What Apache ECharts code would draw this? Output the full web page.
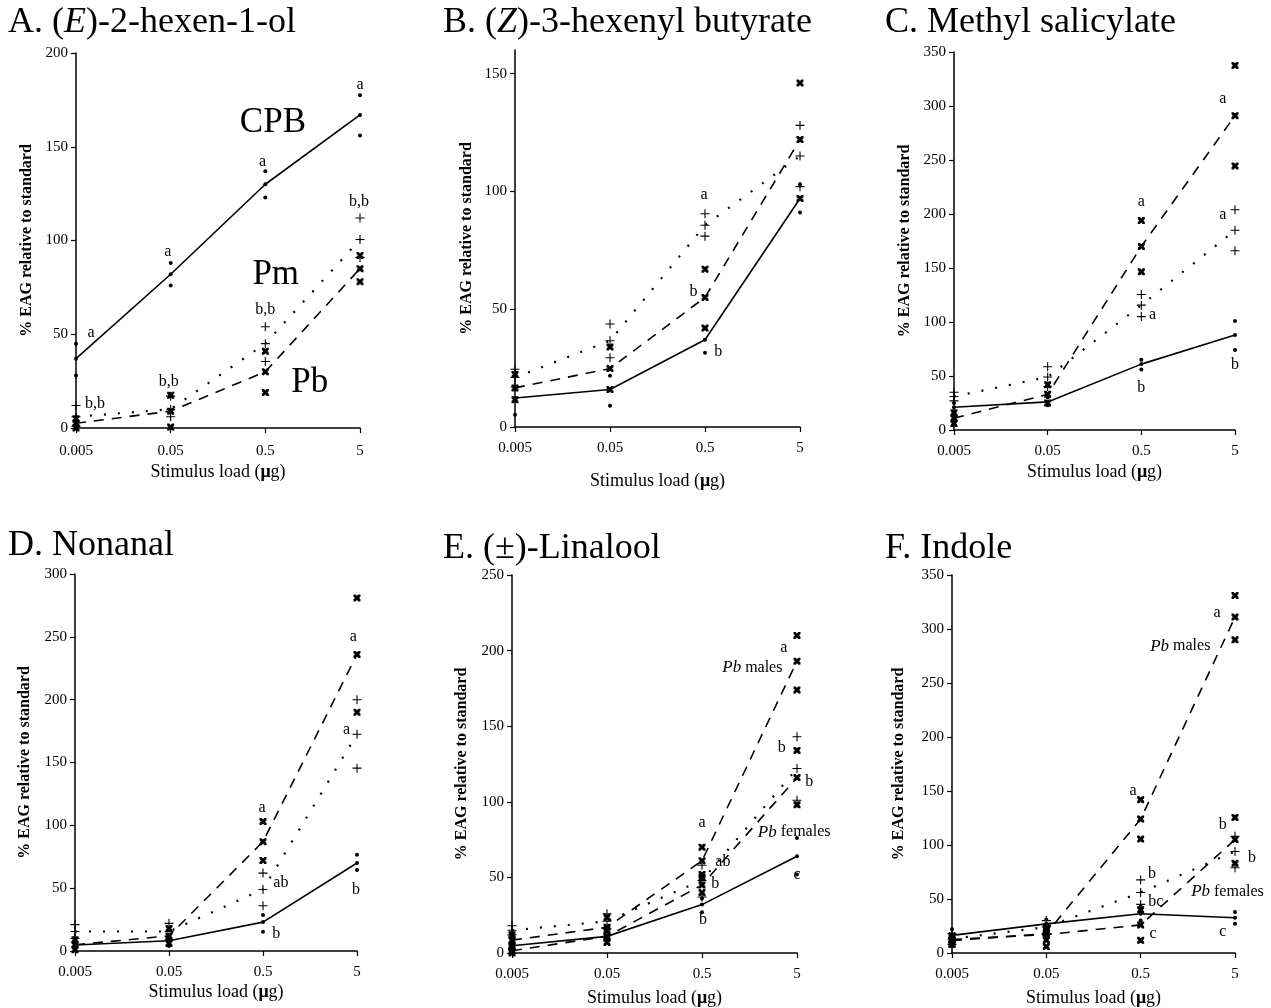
<!DOCTYPE html>
<html><head><meta charset="utf-8">
<script src="https://cdn.jsdelivr.net/npm/echarts@6/dist/echarts.min.js"></script>
<style>html,body{margin:0;padding:0;background:#fff}#c{width:1271px;height:1008px}</style>
</head><body><div id="c"></div>
<script>
// ---------- DATA ----------
const xTicks = ['0.005', '0.05', '0.5', '5'];

// A. (E)-2-hexen-1-ol
const A_CPB_mean = [37, 82, 130, 167];
const A_CPB_hi   = [45, 88, 137, 177.5];
const A_CPB_lo   = [28, 76, 123, 156];
const A_Pm_mean  = [6, 10, 45, 100.5];
const A_Pm_hi    = [12, 17, 54, 112];
const A_Pm_lo    = [1, 6, 35.5, 91];
const A_Pb_mean  = [2.5, 9, 30, 85];
const A_Pb_hi    = [5, 17.5, 41, 92];
const A_Pb_lo    = [0, 0.5, 19, 78];
const A_notes = [[0.16, 50.6, 'a'], [0.2, 13, 'b,b'], [0.97, 94, 'a'], [0.98, 24.5, 'b,b'],
                 [1.97, 142, 'a'], [2.0, 63, 'b,b'], [3.0, 183, 'a'], [2.99, 120.5, 'b,b']];
const A_big = [[2.08, 163, 'CPB'], [2.11, 81.6, 'Pm'], [2.47, 24, 'Pb']];

// B. (Z)-3-hexenyl butyrate
const B_CPB_mean = [12.3, 15.9, 37, 97];
const B_CPB_hi   = [17, 21.8, 42, 103];
const B_CPB_lo   = [5.2, 9, 31.5, 91];
const B_Pm_mean  = [21, 36.6, 85.6, 115];
const B_Pm_hi    = [24.5, 43.7, 90.5, 128];
const B_Pm_lo    = [17, 29.4, 81, 102];
const B_Pb_mean  = [16.6, 24.8, 55, 122];
const B_Pb_hi    = [22.3, 34, 67, 146];
const B_Pb_lo    = [11.6, 15.9, 42, 97];
const B_notes = [[1.99, 98.6, 'a'], [1.88, 57.4, 'b'], [2.14, 32, 'b']];

// C. Methyl salicylate
const C_CPB_mean = [21, 26, 61, 88];
const C_CPB_hi   = [25, 30, 65, 101];
const C_CPB_lo   = [17, 23, 56, 74];
const C_Pm_mean  = [31, 49, 115.6, 185];
const C_Pm_hi    = [35, 58.6, 125.5, 204];
const C_Pm_lo    = [27, 40, 105, 166];
const C_Pb_mean  = [11, 33, 170, 291];
const C_Pb_hi    = [16, 42, 194, 337.6];
const C_Pb_lo    = [6, 25, 146.5, 244.5];
const C_notes = [[2.0, 211, 'a'], [2.12, 106.5, 'a'], [2.0, 39, 'b'], [2.87, 307, 'a'],
                 [2.87, 199, 'a'], [3.0, 60, 'b']];

// D. Nonanal
const D_CPB_mean = [4.8, 8.2, 23, 70];
const D_CPB_hi   = [8, 11, 28.7, 76.5];
const D_CPB_lo   = [1.5, 4, 15.4, 64.5];
const D_Pm_mean  = [15.5, 15.5, 49, 172.5];
const D_Pm_hi    = [21, 22, 62, 200];
const D_Pm_lo    = [10, 9, 36, 145.5];
const D_Pb_mean  = [5, 12, 87, 236];
const D_Pb_hi    = [9, 18, 103, 281];
const D_Pb_lo    = [1, 6, 72, 190];
const D_notes = [[1.99, 114, 'a'], [2.19, 54, 'ab'], [2.14, 14, 'b'], [2.96, 250, 'a'],
                 [2.89, 176, 'a'], [2.99, 49, 'b']];

// E. (±)-Linalool
const E_CPB_mean = [4.8, 11, 32, 64];
const E_CPB_hi   = [8, 14, 36, 76];
const E_CPB_lo   = [2, 7, 27, 52];
const E_Pm_mean  = [15, 21, 48, 122];
const E_Pm_hi    = [18, 26, 58, 143];
const E_Pm_lo    = [12, 16, 37, 101];
const E_PbM_mean = [8.5, 17, 61, 193];
const E_PbM_hi   = [12, 23.5, 70, 210];
const E_PbM_lo   = [5, 10, 52, 174];
const E_PbF_mean = [1.5, 11, 45, 116];
const E_PbF_hi   = [4, 15, 50, 134];
const E_PbF_lo   = [0, 7, 40, 98];
const E_notes = [[2.0, 86, 'a'], [2.22, 60, 'ab'], [2.14, 46, 'b'], [2.01, 22, 'b'],
                 [2.86, 202, 'a'], [2.84, 136, 'b'], [3.13, 113.5, 'b'], [3.0, 52, 'c'],
                 [2.53, 188.6, '{i|Pb} males'], [2.97, 80, '{i|Pb} females']];

// F. Indole
const F_CPB_mean = [16.3, 27, 36.3, 32.6];
const F_CPB_hi   = [22, 31, 43, 38];
const F_CPB_lo   = [10, 23, 30, 27];
const F_Pm_mean  = [13, 24, 56, 94];
const F_Pm_hi    = [18, 30, 67.7, 108];
const F_Pm_lo    = [8, 18, 45, 79];
const F_PbM_mean = [11.5, 18, 124, 311];
const F_PbM_hi   = [15, 24, 142, 331];
const F_PbM_lo   = [8, 12, 105.5, 290];
const F_PbF_mean = [12.5, 17, 26, 105];
const F_PbF_hi   = [16, 22, 40, 125.5];
const F_PbF_lo   = [8, 6, 11.7, 83];
const F_notes = [[1.92, 150, 'a'], [2.12, 73, 'b'], [2.16, 47, 'bc'], [2.13, 17.5, 'c'],
                 [2.81, 315, 'a'], [2.87, 119, 'b'], [3.18, 88.6, 'b'], [2.87, 20, 'c'],
                 [2.42, 284, '{i|Pb} males'], [2.92, 57, '{i|Pb} females']];

// ---------- STYLE ----------
const SERIF = '"Liberation Serif", "Times New Roman", serif';
const SYM_DOT = 'circle';
const SYM_PLUS = 'path://M4.4,0H5.6V4.4H10V5.6H5.6V10H4.4V5.6H0V4.4H4.4Z';
const SYM_STAR = 'path://M0,0H3L5,2L7,0H10V3L8,5L10,7V10H7L5,8L3,10H0V7L2,5L0,3Z';
const ST = {
  cpb: {symbol: SYM_DOT, size: 4, dash: 'solid', width: 1.6},
  pm:  {symbol: SYM_PLUS, size: 9, dash: [2, 12], width: 2.2},
  pb:  {symbol: SYM_STAR, size: 7, dash: [10, 8], width: 1.6}
};

const panels = [
  {title: '{n|A. (}{i|E}{n|)-2-hexen-1-ol}', tl: 8, tt: 5,
   grid: {left: 76, top: 53, width: 284, height: 375}, ymax: 200, xGap: 35, xMargin: 16, yGap: 41,
   groups: [[A_CPB_mean, A_CPB_hi, A_CPB_lo, ST.cpb], [A_Pm_mean, A_Pm_hi, A_Pm_lo, ST.pm], [A_Pb_mean, A_Pb_hi, A_Pb_lo, ST.pb]],
   notes: A_notes, big: A_big},
  {title: '{n|B. (}{i|Z}{n|)-3-hexenyl butyrate}', tl: 443, tt: 5,
   grid: {left: 515, top: 50, width: 285, height: 377}, ymax: 160, xGap: 45, xMargin: 14, yGap: 40,
   groups: [[B_CPB_mean, B_CPB_hi, B_CPB_lo, ST.cpb], [B_Pm_mean, B_Pm_hi, B_Pm_lo, ST.pm], [B_Pb_mean, B_Pb_hi, B_Pb_lo, ST.pb]],
   notes: B_notes},
  {title: '{n|C. Methyl salicylate}', tl: 885, tt: 5,
   grid: {left: 954, top: 52, width: 281, height: 378}, ymax: 350, xGap: 33, xMargin: 14, yGap: 41,
   groups: [[C_CPB_mean, C_CPB_hi, C_CPB_lo, ST.cpb], [C_Pm_mean, C_Pm_hi, C_Pm_lo, ST.pm], [C_Pb_mean, C_Pb_hi, C_Pb_lo, ST.pb]],
   notes: C_notes},
  {title: '{n|D. Nonanal}', tl: 8, tt: 528,
   grid: {left: 75, top: 574, width: 282, height: 377}, ymax: 300, xGap: 32, xMargin: 14, yGap: 42,
   groups: [[D_CPB_mean, D_CPB_hi, D_CPB_lo, ST.cpb], [D_Pm_mean, D_Pm_hi, D_Pm_lo, ST.pm], [D_Pb_mean, D_Pb_hi, D_Pb_lo, ST.pb]],
   notes: D_notes},
  {title: '{n|E. (±)-Linalool}', tl: 443, tt: 531,
   grid: {left: 512, top: 575, width: 285, height: 379}, ymax: 250, xGap: 36, xMargin: 14, yGap: 42,
   groups: [[E_CPB_mean, E_CPB_hi, E_CPB_lo, ST.cpb], [E_Pm_mean, E_Pm_hi, E_Pm_lo, ST.pm],
            [E_PbM_mean, E_PbM_hi, E_PbM_lo, ST.pb], [E_PbF_mean, E_PbF_hi, E_PbF_lo, ST.pb]],
   notes: E_notes},
  {title: '{n|F. Indole}', tl: 885, tt: 531,
   grid: {left: 952, top: 575, width: 283, height: 379}, ymax: 350, xGap: 36, xMargin: 14, yGap: 45,
   groups: [[F_CPB_mean, F_CPB_hi, F_CPB_lo, ST.cpb], [F_Pm_mean, F_Pm_hi, F_Pm_lo, ST.pm],
            [F_PbM_mean, F_PbM_hi, F_PbM_lo, ST.pb], [F_PbF_mean, F_PbF_hi, F_PbF_lo, ST.pb]],
   notes: F_notes}
];

// ---------- BUILD ----------
const titles = [], grids = [], xAxes = [], yAxes = [], series = [];
const axisLineStyle = {color: '#000', width: 1.5};

panels.forEach((p, gi) => {
  titles.push({
    text: p.title, left: p.tl, top: p.tt, padding: 0,
    textStyle: {fontWeight: 'normal', rich: {
      n: {fontFamily: SERIF, fontSize: 36, fontWeight: 'normal', color: '#000'},
      i: {fontFamily: SERIF, fontSize: 36, fontWeight: 'normal', fontStyle: 'italic', color: '#000'}
    }}
  });
  grids.push(Object.assign({containLabel: false}, p.grid));
  const yTicks = [];
  for (let v = 0; v <= p.ymax; v += 50) yTicks.push(v);
  xAxes.push({
    type: 'value', gridIndex: gi, min: 0, max: 3, interval: 1,
    axisLine: {show: true, onZero: false, lineStyle: axisLineStyle},
    axisTick: {show: true, length: 5, lineStyle: {color: '#000', width: 1.2}},
    splitLine: {show: false},
    axisLabel: {formatter: v => xTicks[Math.round(v)], fontFamily: SERIF, fontSize: 15, color: '#000', margin: p.xMargin},
    name: '{n|Stimulus load (}{m|μ}{n|g)}', nameLocation: 'middle', nameGap: p.xGap,
    nameTextStyle: {rich: {
      n: {fontFamily: SERIF, fontSize: 18, color: '#000'},
      m: {fontFamily: SERIF, fontSize: 18, fontWeight: 'bold', color: '#000'}
    }}
  });
  yAxes.push({
    type: 'value', gridIndex: gi, min: 0, max: p.ymax, interval: 50,
    axisLine: {show: true, onZero: false, lineStyle: axisLineStyle},
    axisTick: {show: true, length: 5, customValues: yTicks, lineStyle: {color: '#000', width: 1.2}},
    splitLine: {show: false},
    axisLabel: {customValues: yTicks, fontFamily: SERIF, fontSize: 15, color: '#000', margin: 8},
    name: '% EAG relative to standard', nameLocation: 'middle', nameGap: p.yGap, nameRotate: 90,
    nameTextStyle: {fontFamily: SERIF, fontSize: 16, fontWeight: 'bold', color: '#000'}
  });

  p.groups.forEach(([mean, hi, lo, st]) => {
    series.push({
      type: 'line', xAxisIndex: gi, yAxisIndex: gi, silent: true,
      data: mean.map((v, i) => [i, v]),
      symbol: st.symbol, symbolSize: st.size, showSymbol: true,
      itemStyle: {color: '#000', borderWidth: 0, opacity: 1},
      lineStyle: {color: '#000', width: st.width, type: st.dash}
    });
    series.push({
      type: 'scatter', xAxisIndex: gi, yAxisIndex: gi, silent: true,
      data: hi.map((v, i) => [i, v]).concat(lo.map((v, i) => [i, v])),
      symbol: st.symbol, symbolSize: st.size,
      itemStyle: {color: '#000', opacity: 1}
    });
  });

  series.push({
    type: 'scatter', xAxisIndex: gi, yAxisIndex: gi, silent: true, clip: false, z: 10,
    data: p.notes, symbolSize: 1, itemStyle: {color: 'rgba(0,0,0,0)', opacity: 1},
    label: {show: true, position: 'inside', formatter: q => q.data[2],
      fontFamily: SERIF, fontSize: 16, color: '#000', textBorderWidth: 0,
      rich: {i: {fontFamily: SERIF, fontSize: 17, fontStyle: 'italic', color: '#000'}}}
  });
  if (p.big) {
    series.push({
      type: 'scatter', xAxisIndex: gi, yAxisIndex: gi, silent: true, clip: false, z: 10,
      data: p.big, symbolSize: 1, itemStyle: {color: 'rgba(0,0,0,0)', opacity: 1},
      label: {show: true, position: 'inside', formatter: q => q.data[2],
        fontFamily: SERIF, fontSize: 35, color: '#000', textBorderWidth: 0}
    });
  }
});

const chart = echarts.init(document.getElementById('c'), null, {renderer: 'canvas'});
chart.setOption({
  animation: false,
  backgroundColor: '#fff',
  title: titles, grid: grids, xAxis: xAxes, yAxis: yAxes, series: series
});
</script></body></html>
